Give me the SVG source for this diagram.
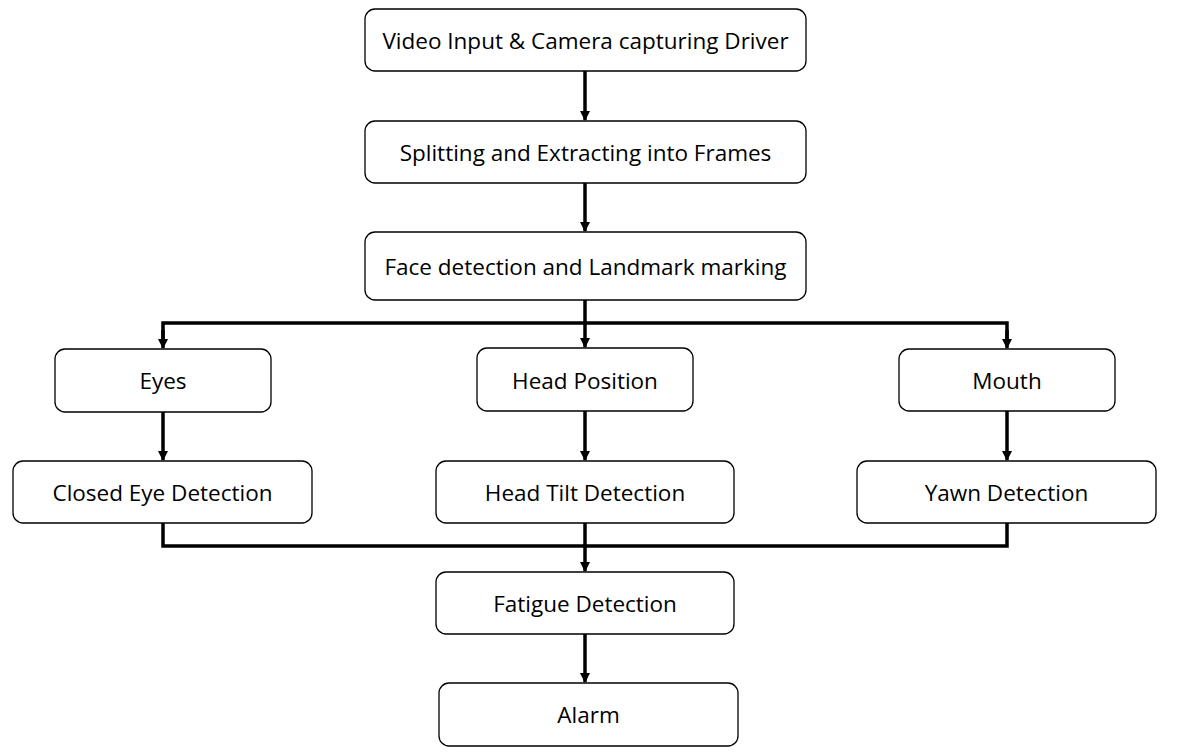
<svg xmlns="http://www.w3.org/2000/svg" width="1181" height="754" viewBox="0 0 1181 754">
<defs>
<style>
.box{fill:#fff;stroke:#000;stroke-width:1.3}
.lbl{font-family:"Open Sans","Liberation Sans",sans-serif;font-size:22.5px;fill:#000;text-anchor:middle;dominant-baseline:central}
.ln{fill:none;stroke:#000;stroke-width:3.5}
</style>
<marker id="ah" markerWidth="10" markerHeight="12" refX="9" refY="5" orient="auto" markerUnits="userSpaceOnUse" viewBox="0 0 10 10">
<path d="M0,0 L10,5 L0,10 z" fill="#000"/>
</marker>
</defs>
<rect width="1181" height="754" fill="#fff"/>
<g id="connectors">
<line class="ln" x1="585" y1="71" x2="585" y2="120" marker-end="url(#ah)"/>
<line class="ln" x1="585" y1="183" x2="585" y2="231" marker-end="url(#ah)"/>
<line class="ln" x1="585" y1="300" x2="585" y2="347" marker-end="url(#ah)"/>
<polyline class="ln" points="163,340 163,323 1007,323 1007,340"/>
<line class="ln" x1="163" y1="330" x2="163" y2="348" marker-end="url(#ah)"/>
<line class="ln" x1="1007" y1="330" x2="1007" y2="348" marker-end="url(#ah)"/>
<line class="ln" x1="163" y1="412" x2="163" y2="460" marker-end="url(#ah)"/>
<line class="ln" x1="585" y1="411" x2="585" y2="460" marker-end="url(#ah)"/>
<line class="ln" x1="1007" y1="411" x2="1007" y2="460" marker-end="url(#ah)"/>
<polyline class="ln" points="163,523 163,546 1007,546 1007,523"/>
<line class="ln" x1="585" y1="523" x2="585" y2="571" marker-end="url(#ah)"/>
<line class="ln" x1="585" y1="634" x2="585" y2="682" marker-end="url(#ah)"/>
</g>
<g id="n1"><rect class="box" x="365" y="9" width="441" height="62" rx="10"/><text class="lbl" x="585.5" y="40">Video Input &amp; Camera capturing Driver</text></g>
<g id="n2"><rect class="box" x="365" y="121" width="441" height="62" rx="10"/><text class="lbl" x="585.5" y="152">Splitting and Extracting into Frames</text></g>
<g id="n3"><rect class="box" x="365" y="232" width="441" height="68" rx="10"/><text class="lbl" x="585.5" y="266">Face detection and Landmark marking</text></g>
<g id="n4"><rect class="box" x="55" y="349" width="216" height="63" rx="10"/><text class="lbl" x="163" y="380">Eyes</text></g>
<g id="n5"><rect class="box" x="477" y="348" width="216" height="63" rx="10"/><text class="lbl" x="585" y="380">Head Position</text></g>
<g id="n6"><rect class="box" x="899" y="349" width="216" height="62" rx="10"/><text class="lbl" x="1007" y="380">Mouth</text></g>
<g id="n7"><rect class="box" x="13" y="461" width="299" height="62" rx="10"/><text class="lbl" x="162.5" y="492">Closed Eye Detection</text></g>
<g id="n8"><rect class="box" x="436" y="461" width="298" height="62" rx="10"/><text class="lbl" x="585" y="492">Head Tilt Detection</text></g>
<g id="n9"><rect class="box" x="857" y="461" width="299" height="62" rx="10"/><text class="lbl" x="1006.5" y="492">Yawn Detection</text></g>
<g id="n10"><rect class="box" x="436" y="572" width="298" height="62" rx="10"/><text class="lbl" x="585" y="603">Fatigue Detection</text></g>
<g id="n11"><rect class="box" x="439" y="683" width="299" height="63" rx="10"/><text class="lbl" x="588.5" y="714">Alarm</text></g>
</svg>
